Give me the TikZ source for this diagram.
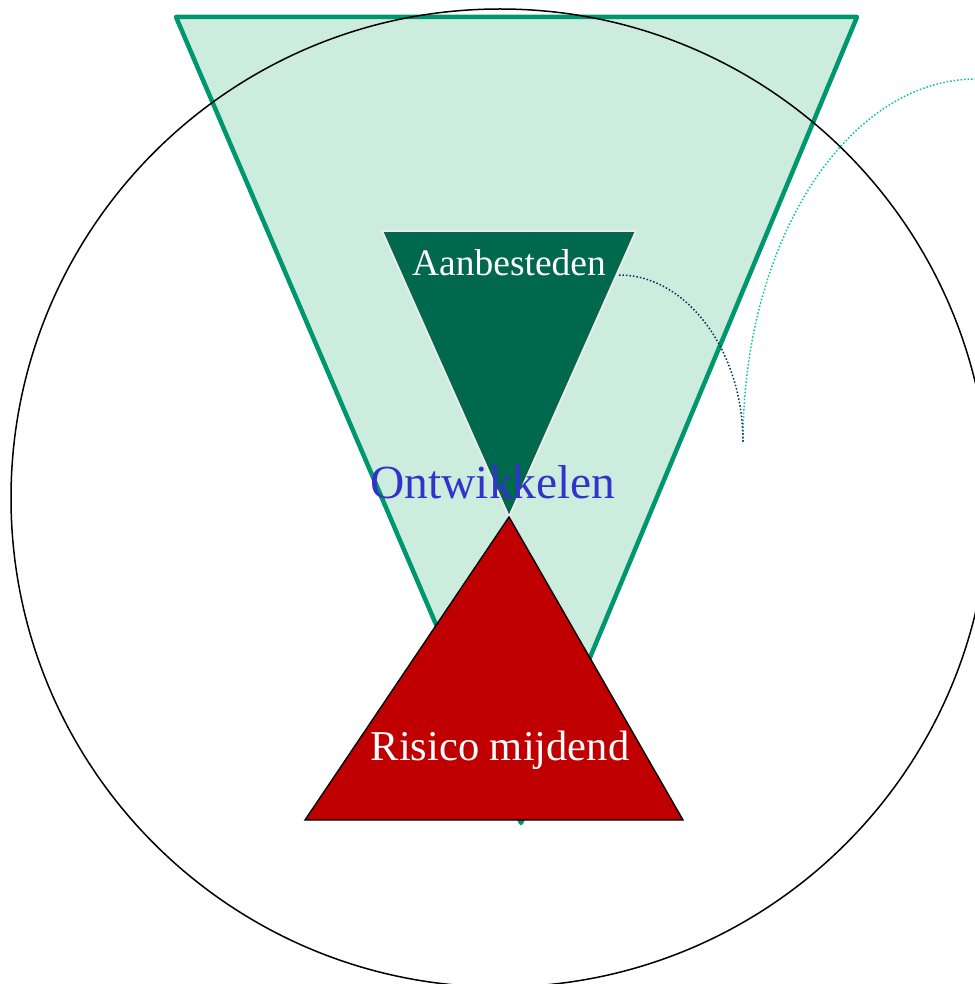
\documentclass[tikz,border=0pt]{standalone}
\usepackage{fontspec}
\setmainfont{Liberation Serif}
\definecolor{lightgreen}{HTML}{CCEDDD}
\definecolor{bordergreen}{HTML}{009670}
\definecolor{darkgreen}{HTML}{00684C}
\definecolor{riskred}{HTML}{C00000}
\definecolor{textblue}{HTML}{3333CC}
\definecolor{tealdot}{HTML}{00C896}
\definecolor{navydot}{HTML}{06305A}
\tikzset{
  bigtri/.style={fill=lightgreen, draw=bordergreen, line width=4.5pt, line join=round},
  smalltri/.style={fill=darkgreen, draw=white!92!black, line width=2pt, line join=round},
  redtri/.style={fill=riskred, draw=black, line width=1.4pt, line join=miter},
  ring/.style={draw=black, line width=1.5pt},
  lbl/.style={anchor=base, inner sep=0pt},
  dotline/.style={dotted, line width=1.5pt},
}
\begin{document}
\begin{tikzpicture}[x=1pt, y=-1pt]
\useasboundingbox (0,0) rectangle (974,984);
% big inverted triangle
\coordinate (BTL) at (176,17);
\coordinate (BTR) at (857,17);
\coordinate (BTA) at (521,823);
\fill[lightgreen] (BTL) -- (BTR) -- (BTA) -- cycle;
\draw[bigtri, fill=none] (BTL) -- (BTR) -- (BTA) -- cycle;
% circle
\coordinate (C) at (500,498);
\draw[ring] (C) circle (489);
% small dark triangle
\coordinate (STL) at (382,231);
\coordinate (STR) at (636,231);
\coordinate (STA) at (509,517);
\draw[smalltri] (STL) -- (STR) -- (STA) -- cycle;
% red triangle
\coordinate (RL) at (305,820);
\coordinate (RR) at (683,820);
\coordinate (RA) at (509,517);
\draw[redtri] (RA) -- (RR) -- (RL) -- cycle;
% labels
\node[lbl, text=white, font=\fontsize{37.5}{40}\selectfont] (aan) at (509,275) {Aanbesteden};
\node[lbl, text=textblue, font=\fontsize{47.5}{50}\selectfont] (ont) at (493,498) {Ontwikkelen};
\node[lbl, text=white, font=\fontsize{42.5}{45}\selectfont] (ris) at (500,760) {Risico mijdend};
% dotted curves
\coordinate (E) at (743,442);
\coordinate (T0) at (976,79);
\coordinate (N0) at (619,275);
\draw[dotline, draw=tealdot] (T0) .. controls (848,79) and (743,240) .. (E);
\draw[dotline, draw=navydot] (N0) .. controls (686,275) and (743,350) .. (E);
\end{tikzpicture}
\end{document}
